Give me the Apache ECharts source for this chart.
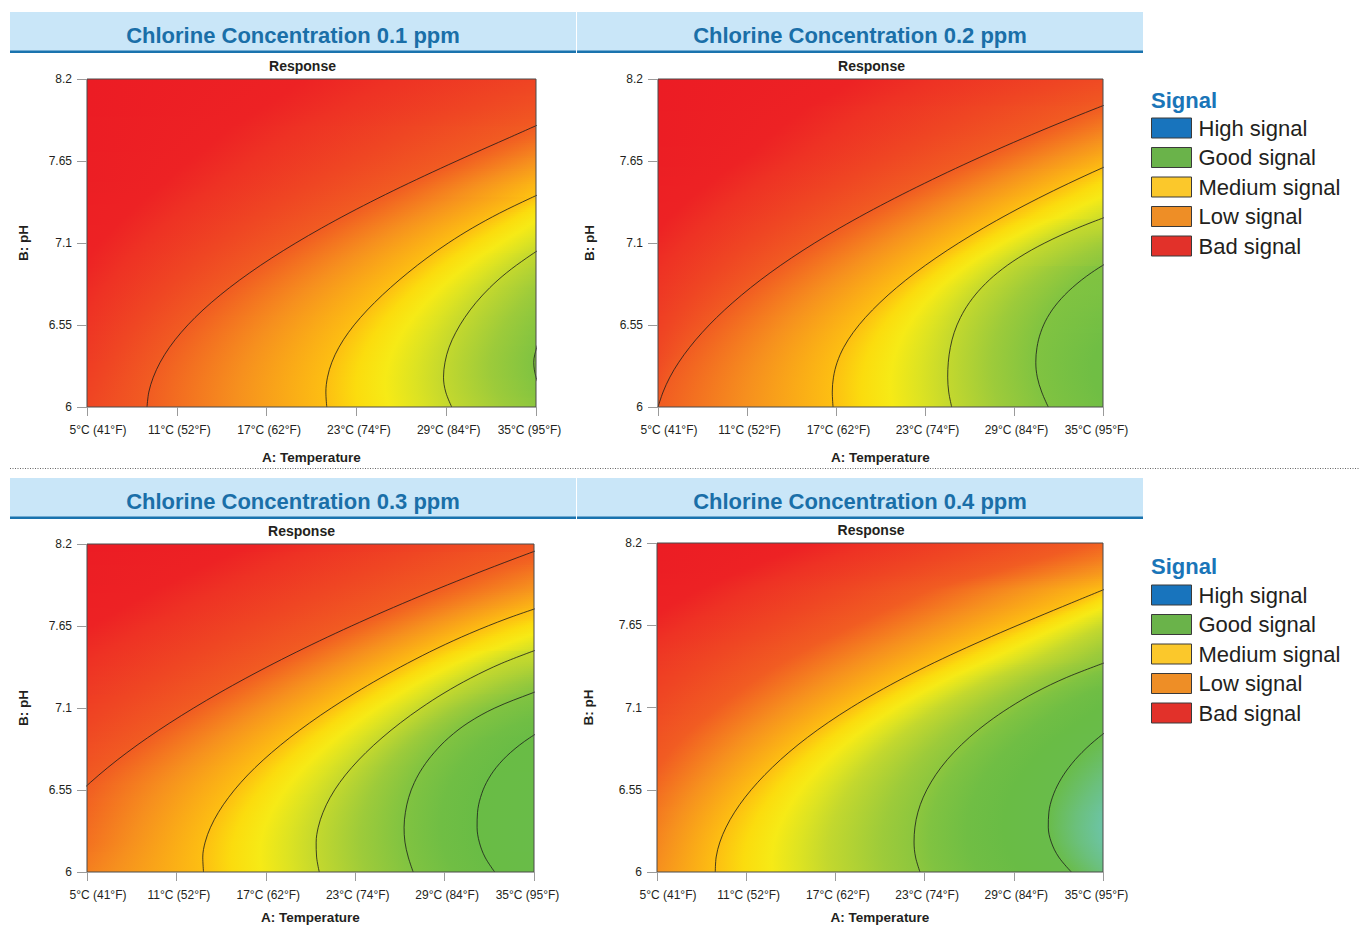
<!DOCTYPE html>
<html><head><meta charset="utf-8">
<script src="https://cdn.jsdelivr.net/npm/echarts@6/dist/echarts.min.js"></script>
<style>html,body{margin:0;padding:0;background:#fff}#chart{width:1360px;height:926px}</style>
</head><body><div id="chart"></div>
<script>
// ---------------- DATA ----------------
const pHRows = [6.0,6.1,6.2,6.3,6.4,6.5,6.6,6.7,6.8,6.9,7.0,7.1,7.2,7.3,7.4,7.5,7.6,7.7,7.8,7.9,8.0,8.1,8.2];
const tempTicks = [5,11,17,23,29,35];
const tempTickLabels = ['5°C (41°F)','11°C (52°F)','17°C (62°F)','23°C (74°F)','29°C (84°F)','35°C (95°F)'];
const pHTicks = [6,6.55,7.1,7.65,8.2];
const pHTickLabels = ['6','6.55','7.1','7.65','8.2'];
const panelTitles = ['Chlorine Concentration 0.1 ppm','Chlorine Concentration 0.2 ppm','Chlorine Concentration 0.3 ppm','Chlorine Concentration 0.4 ppm'];
const signalNames = ['High signal','Good signal','Medium signal','Low signal','Bad signal'];
const signalColors = ['#1874bd','#6ab34a','#fbc82b','#ee8e26','#e2312a'];

// response colour scale (response level -> colour)
const cmU = [-1.0,-0.3,0.0,0.5,1.0,1.5,2.0,2.25,2.5,2.75,3.0,3.5,4.0,4.5,5.0,5.6,6.0,6.5];
const cmColors = ['#ec1c24','#ed2224','#ee3224','#ef4623','#f15c22','#f6901e','#fdbf12','#fbdc0e','#f6ea16','#dde322','#c3d82e','#9dcb3a','#80c341','#70be44','#69bc45','#69bc4a','#6bc07c','#6cc5b0'];

// contour lines: temperature (°C) where each contour crosses each pH row (null = not present)
// Panel 1 (0.1 ppm)
const p1_lineA = [9.01,9.13,9.43,9.89,10.51,11.29,12.22,13.30,14.52,15.87,17.35,18.95,20.67,22.50,24.44,26.48,28.61,30.81,33.06,35.3,null,null,null];
const p1_lineB = [21.02,20.96,21.07,21.36,21.83,22.47,23.27,24.21,25.27,26.44,27.72,29.14,30.74,32.56,34.62,36.82,null,null,null,null,null,null,null];
const p1_lineC = [29.37,28.97,28.82,28.92,29.19,29.64,30.24,30.99,31.91,33.03,34.38,35.88,null,null,null,null,null,null,null,null,null,null,null];
const p1_lineD = [null,35.4,35.0,34.85,35.05,35.4,null,null,null,null,null,null,null,null,null,null,null,null,null,null,null,null,null];
const p1_levels = [1,2,3,4];
const p1_leftEdge = [0.5,0.42,0.34,0.26,0.18,0.1,0.02,-0.06,-0.14,-0.22,-0.3,-0.38,-0.46,-0.54,-0.62,-0.7,-0.76,-0.82,-0.88,-0.92,-0.96,-1.0,-1.0];
const p1_rightEdge = [3.75,3.9,3.98,4.02,3.98,3.9,3.8,3.65,3.5,3.3,3.08,2.85,2.62,2.4,2.08,1.9,1.65,1.4,1.15,0.95,0.75,0.6,0.45];
// Panel 2 (0.2 ppm)
const p2_lineA = [5.00,5.34,5.80,6.40,7.13,7.98,8.95,10.04,11.24,12.56,14.00,15.56,17.24,19.04,20.95,22.96,25.06,27.26,29.56,31.96,34.46,37.06,null];
const p2_lineB = [16.80,16.75,16.83,17.08,17.52,18.16,18.98,19.96,21.08,22.34,23.74,25.27,26.93,28.72,30.64,32.69,34.87,37.17,null,null,null,null,null];
const p2_lineC = [24.80,24.60,24.53,24.57,24.71,24.97,25.39,25.99,26.81,27.89,29.29,31.07,33.27,35.87,null,null,null,null,null,null,null,null,null];
const p2_lineD = [31.31,30.87,30.57,30.47,30.55,30.80,31.25,31.95,32.93,34.21,35.81,null,null,null,null,null,null,null,null,null,null,null,null];
const p2_levels = [1,2,3,4];
const p2_leftEdge = [1.0,0.85,0.72,0.6,0.5,0.4,0.3,0.2,0.1,0.0,-0.1,-0.2,-0.3,-0.4,-0.5,-0.6,-0.7,-0.8,-0.85,-0.9,-0.95,-1.0,-1.0];
const p2_rightEdge = [4.45,4.55,4.6,4.6,4.55,4.45,4.35,4.2,4.1,4.02,3.75,3.45,3.1,2.85,2.55,2.3,2.0,1.75,1.5,1.25,1.02,0.8,0.6];
// Panel 3 (0.3 ppm)
const p3_lineA = [null,null,null,null,null,4.15,5.22,6.39,7.67,9.06,10.56,12.16,13.86,15.66,17.56,19.56,21.66,23.86,26.16,28.56,31.06,33.66,36.36];
const p3_lineB = [12.82,12.77,12.93,13.29,13.82,14.50,15.32,16.28,17.38,18.60,19.94,21.40,22.98,24.68,26.51,28.49,30.69,33.19,36.09,null,null,null,null];
const p3_lineC = [20.59,20.41,20.38,20.52,20.84,21.32,21.96,22.76,23.71,24.80,26.03,27.41,28.96,30.74,32.84,35.44,null,null,null,null,null,null,null];
const p3_lineD = [26.89,26.56,26.34,26.28,26.37,26.59,26.97,27.53,28.29,29.27,30.57,32.37,34.87,37.6,null,null,null,null,null,null,null,null,null];
const p3_lineE = [32.36,31.71,31.33,31.18,31.21,31.41,31.81,32.46,33.41,34.71,36.41,null,null,null,null,null,null,null,null,null,null,null,null];
const p3_levels = [1,2,3,4,5];
const p3_leftEdge = [1.35,1.28,1.2,1.15,1.1,1.05,0.98,0.85,0.72,0.6,0.48,0.36,0.24,0.12,0.0,-0.12,-0.25,-0.38,-0.5,-0.62,-0.75,-0.87,-1.0];
const p3_rightEdge = [5.3,5.4,5.45,5.45,5.4,5.35,5.25,5.15,5.08,5.0,4.65,4.3,3.97,3.55,3.15,2.85,2.5,2.15,1.85,1.55,1.3,1.05,0.85];
// Panel 4 (0.4 ppm)
const p4_line1 = [8.92,8.98,9.23,9.65,10.22,10.93,11.78,12.76,13.87,15.12,16.52,18.07,19.77,21.63,23.65,25.81,28.09,30.47,32.89,35.34,null,null,null];
const p4_line2 = [22.69,22.39,22.29,22.35,22.55,22.91,23.43,24.11,24.97,26.01,27.25,28.71,30.43,32.53,35.13,null,null,null,null,null,null,null,null];
const p4_line3 = [32.87,32.02,31.52,31.32,31.36,31.60,32.05,32.71,33.59,34.71,36.06,null,null,null,null,null,null,null,null,null,null,null,null];
const p4_levels = [2,3.8,5.6];
const p4_leftEdge = [1.5,1.45,1.4,1.35,1.28,1.2,1.1,1.0,0.9,0.8,0.68,0.56,0.44,0.32,0.2,0.06,-0.1,-0.25,-0.4,-0.55,-0.7,-0.85,-1.0];
const p4_rightEdge = [6.0,6.2,6.35,6.4,6.35,6.2,6.05,5.9,5.75,5.6,5.35,5.05,4.7,4.25,3.75,3.45,3.15,2.8,2.4,1.95,1.6,1.3,1.05];

// ---------------- LAYOUT / STYLE ----------------
const FONT = "'Liberation Sans', Arial, sans-serif";
const TXT = '#231f20';
const panels = [
  {grid:{left:87,top:79,width:449,height:328}, lines:[p1_lineA,p1_lineB,p1_lineC,p1_lineD], levels:p1_levels, left:p1_leftEdge, right:p1_rightEdge, band:{x:10,y:12}, yGap:57, xGap:43},
  {grid:{left:658,top:79,width:445,height:328}, lines:[p2_lineA,p2_lineB,p2_lineC,p2_lineD], levels:p2_levels, left:p2_leftEdge, right:p2_rightEdge, band:{x:577,y:12}, yGap:62, xGap:43},
  {grid:{left:87,top:544,width:447,height:328}, lines:[p3_lineA,p3_lineB,p3_lineC,p3_lineD,p3_lineE], levels:p3_levels, left:p3_leftEdge, right:p3_rightEdge, band:{x:10,y:478}, yGap:57, xGap:38},
  {grid:{left:657,top:543,width:446,height:329}, lines:[p4_line1,p4_line2,p4_line3], levels:p4_levels, left:p4_leftEdge, right:p4_rightEdge, band:{x:577,y:478}, yGap:62, xGap:38}
];

const cmRGB = cmColors.map(h=>[parseInt(h.slice(1,3),16),parseInt(h.slice(3,5),16),parseInt(h.slice(5,7),16)]);
function colorAt(u){
  const n = cmU.length;
  let c;
  if (u <= cmU[0]) c = cmRGB[0];
  else if (u >= cmU[n-1]) c = cmRGB[n-1];
  else {
    let j = 0; while (u > cmU[j+1]) j++;
    const t = (u-cmU[j])/(cmU[j+1]-cmU[j]);
    const a = cmRGB[j], b = cmRGB[j+1];
    c = [a[0]+(b[0]-a[0])*t, a[1]+(b[1]-a[1])*t, a[2]+(b[2]-a[2])*t];
  }
  return 'rgb('+Math.round(c[0])+','+Math.round(c[1])+','+Math.round(c[2])+')';
}
function rowStops(pts){
  const stops = [];
  for (let j=0;j<pts.length-1;j++){
    const x0=pts[j][0], u0=pts[j][1], x1=pts[j+1][0], u1=pts[j+1][1];
    stops.push({offset:(x0-5)/30, color:colorAt(u0)});
    if (u1 !== u0){
      const between = cmU.filter(c => (c-u0)*(c-u1) < 0);
      if (u1 < u0) between.reverse();
      between.forEach(c => stops.push({offset:(x0+(c-u0)/(u1-u0)*(x1-x0)-5)/30, color:colorAt(c)}));
    }
  }
  const last = pts[pts.length-1];
  stops.push({offset:(last[0]-5)/30, color:colorAt(last[1])});
  let prev = 0;
  stops.forEach(s => { s.offset = Math.min(1, Math.max(prev, s.offset)); prev = s.offset; });
  return stops;
}
function fillSeries(P, k){
  return {
    type:'custom', coordinateSystem:'cartesian2d', xAxisIndex:k, yAxisIndex:k,
    silent:true, clip:true, z:1, animation:false,
    data: pHRows.slice(0,-1).map(p => [5, p]),
    renderItem: function(params, api){
      const i = params.dataIndex, S = 8, children = [];
      const pa = pHRows[i], pb = pHRows[i+1];
      const xl = api.coord([5, pa])[0], xr = api.coord([35, pa])[0];
      for (let s=0;s<S;s++){
        const t0=s/S, t1=(s+1)/S, tm=(t0+t1)/2;
        const ya = api.coord([5, pa+(pb-pa)*t0])[1], yb = api.coord([5, pa+(pb-pa)*t1])[1];
        const pts = [[5, P.left[i]+(P.left[i+1]-P.left[i])*tm]];
        const cr = [];
        P.lines.forEach((L, kk) => {
          const a = L[i], b = L[i+1];
          if (a == null || b == null) return;
          const x = a+(b-a)*tm;
          if (x > 5.001 && x < 34.999) cr.push([x, P.levels[kk]]);
        });
        cr.sort((p,q)=>p[0]-q[0]);
        cr.forEach(c=>pts.push(c));
        pts.push([35, P.right[i]+(P.right[i+1]-P.right[i])*tm]);
        children.push({
          type:'rect',
          shape:{x:xl, y:yb-0.6, width:xr-xl, height:(ya-yb)+1.2},
          style:{fill:new echarts.graphic.LinearGradient(0,0,1,0,rowStops(pts))}
        });
      }
      return {type:'group', children:children};
    }
  };
}

const grids=[], xAxes=[], yAxes=[], series=[], graphics=[];
panels.forEach((P,k)=>{
  grids.push(Object.assign({show:true, borderColor:'#4a4a4a', borderWidth:1, backgroundColor:'transparent', z:5, containLabel:false, outerBoundsMode:'none'}, P.grid));
  xAxes.push({
    type:'value', gridIndex:k, min:5, max:35, z:6,
    axisLine:{show:false},
    axisTick:{show:true, customValues:tempTicks, length:9, lineStyle:{color:'#9a9a9a'}},
    axisLabel:{customValues:tempTicks, margin:17, fontSize:12, color:TXT, fontFamily:FONT,
      formatter:function(v){
        const j = tempTicks.findIndex(t=>Math.abs(t-v)<1e-6);
        if (j===0) return '{f|'+tempTickLabels[j]+'}';
        if (j===tempTicks.length-1) return '{l|'+tempTickLabels[j]+'}';
        return '{m|'+tempTickLabels[j]+'}';
      },
      rich:{f:{padding:[0,0,0,22],fontSize:12,color:TXT,fontFamily:FONT}, l:{padding:[0,13,0,0],fontSize:12,color:TXT,fontFamily:FONT}, m:{padding:[0,0,0,5],fontSize:12,color:TXT,fontFamily:FONT}}
    },
    splitLine:{show:false},
    name:'A: Temperature', nameLocation:'middle', nameGap:P.xGap,
    nameTextStyle:{fontWeight:'bold', fontSize:13.5, color:TXT, fontFamily:FONT}
  });
  yAxes.push({
    type:'value', gridIndex:k, min:6, max:8.2, z:6,
    axisLine:{show:false},
    axisTick:{show:true, customValues:pHTicks, length:10, lineStyle:{color:'#9a9a9a'}},
    axisLabel:{customValues:pHTicks, margin:15, fontSize:12, color:TXT, fontFamily:FONT,
      formatter:function(v){ const j = pHTicks.findIndex(t=>Math.abs(t-v)<1e-6); return j>=0 ? pHTickLabels[j] : ''; }},
    splitLine:{show:false},
    name:'B: pH', nameLocation:'middle', nameRotate:90, nameGap:P.yGap,
    nameTextStyle:{fontWeight:'bold', fontSize:13.5, color:TXT, fontFamily:FONT}
  });
  series.push(fillSeries(P,k));
  P.lines.forEach((L,kk)=>{
    series.push({
      type:'line', xAxisIndex:k, yAxisIndex:k, silent:true, animation:false, clip:true, z:3,
      data: L.map((x,i)=> x==null ? null : [x, pHRows[i]]).filter(d=>d!==null),
      smooth:0.35, symbol:'none', showSymbol:false,
      lineStyle:{color:'#1a1a1a', width:0.8}
    });
  });
  graphics.push({type:'rect', z:0, shape:{x:P.band.x, y:P.band.y, width:566, height:39}, style:{fill:'#c9e6f8'}});
  graphics.push({type:'rect', z:0, shape:{x:P.band.x, y:P.band.y+38.5, width:566, height:2.5}, style:{fill:'#1a73ae'}});
  graphics.push({type:'text', z:1, x:P.band.x+283, y:P.band.y+23, style:{text:panelTitles[k], font:'bold 22px '+FONT, fill:'#1a6fa8', align:'center', verticalAlign:'middle'}});
  graphics.push({type:'text', z:1, x:P.grid.left+P.grid.width/2-9, y:P.grid.top-13, style:{text:'Response', font:'bold 14px '+FONT, fill:TXT, align:'center', verticalAlign:'middle'}});
});
graphics.push({type:'line', shape:{x1:10,y1:468.5,x2:1360,y2:468.5}, style:{stroke:'#666', lineWidth:1, lineDash:[1,1.5]}});
[100, 566].forEach(y=>graphics.push({type:'text', x:1151, y:y, style:{text:'Signal', font:'bold 22px '+FONT, fill:'#1a75b8', align:'left', verticalAlign:'middle'}}));

signalNames.forEach((n,i)=>{
  series.push({type:'scatter', name:n, data:[], xAxisIndex:0, yAxisIndex:0, itemStyle:{color:signalColors[i], opacity:1, borderColor:'#3a3a3a', borderWidth:1}});
});
const legendData = signalNames.map((n,i)=>({name:n, itemStyle:{color:signalColors[i], opacity:1, borderColor:'#3a3a3a', borderWidth:1}}));
const legendBase = {orient:'vertical', left:1151, icon:'rect', itemWidth:40, itemHeight:20, itemGap:7.5, padding:0, selectedMode:false,
  textStyle:{fontSize:22, color:TXT, fontFamily:FONT, lineHeight:20, padding:[0,0,0,2]}, data:legendData};

const chart = echarts.init(document.getElementById('chart'), null, {renderer:'svg', width:1360, height:926});
chart.setOption({
  animation:false,
  backgroundColor:'#ffffff',
  grid:grids, xAxis:xAxes, yAxis:yAxes, series:series,
  legend:[Object.assign({top:117}, legendBase), Object.assign({top:584}, legendBase)],
  graphic:graphics
});
</script></body></html>
